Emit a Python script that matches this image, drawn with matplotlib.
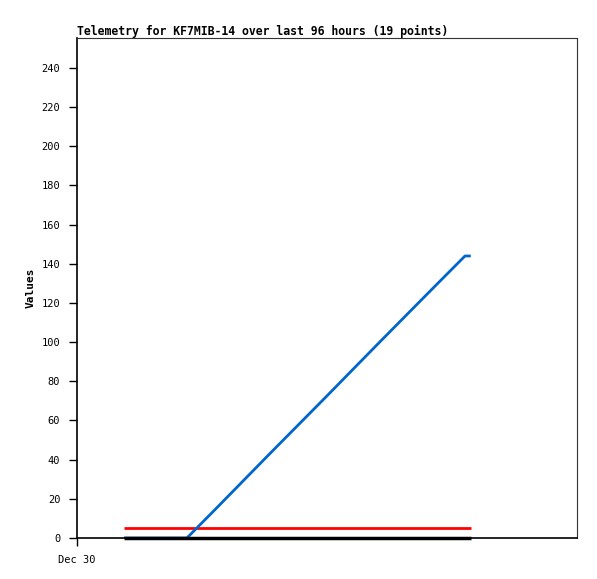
import matplotlib.pyplot as plt

# hours since Dec 30 00:00
hours = [9.0, 21.1, 26.5, 37.0, 47.6, 58.1, 68.7, 74.5, 75.6]
blue_vals = [0, 0, 14.5, 43, 71.5, 100, 128.5, 144, 144]
flat_hours = [9.0, 75.6]
red_vals = [5, 5]
black_vals = [0, 0]

x_ticks = [0]
x_labels = ["Dec 30"]
y_ticks = list(range(0, 241, 20))

plt.rcParams['font.family'] = ['DejaVu Sans Mono']

fig = plt.figure(figsize=(5.97, 5.79), dpi=100)
ax = fig.add_axes([77 / 597, 1 - 538 / 579, 500 / 597, 500 / 579])

ax.plot(flat_hours, red_vals, color='#ff0000', lw=2, solid_capstyle='butt')
ax.plot(hours, blue_vals, color='#0066cc', lw=2, solid_capstyle='butt')
ax.plot(flat_hours, black_vals, color='black', lw=2.5, solid_capstyle='butt',
        clip_on=False, zorder=5)

ax.set_xlim(0, 96)
ax.set_ylim(0, 255.3)
ax.set_xticks(x_ticks)
ax.set_xticklabels(x_labels, fontsize=7.5)
ax.set_yticks(y_ticks)
ax.tick_params(axis='y', labelsize=7.5, length=6, width=1, direction='out', pad=6)
ax.tick_params(axis='x', length=6, width=1, direction='out', pad=6)
for s in ['top', 'right']:
    ax.spines[s].set_linewidth(0.8)
    ax.spines[s].set_color('#333333')
for s in ['left', 'bottom']:
    ax.spines[s].set_linewidth(1.2)

ax.set_ylabel("Values", fontsize=8, fontweight='bold', labelpad=4)
ax.set_title("Telemetry for KF7MIB-14 over last 96 hours (19 points)",
             fontsize=8.3, fontweight='bold', loc='left', pad=2)

fig.savefig("out.png", dpi=100)
